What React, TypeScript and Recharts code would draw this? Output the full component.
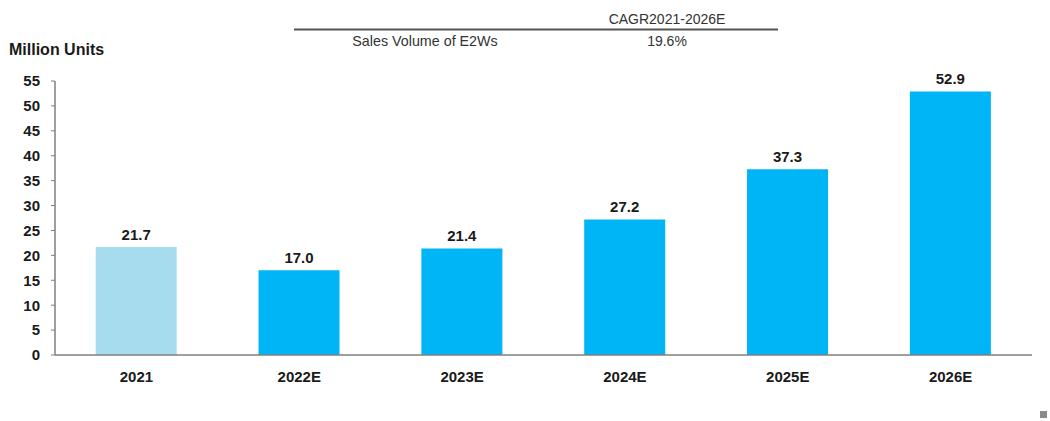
import React from 'react';
import { BarChart, Bar, XAxis, YAxis, Cell, LabelList } from 'recharts';

const categories = ['2021', '2022E', '2023E', '2024E', '2025E', '2026E'];
const salesVolume = [21.7, 17.0, 21.4, 27.2, 37.3, 52.9];
const yTicks = [0, 5, 10, 15, 20, 25, 30, 35, 40, 45, 50, 55];
const barColors = ['#a7dbee', '#00b5f5', '#00b5f5', '#00b5f5', '#00b5f5', '#00b5f5'];
const unitLabel = 'Million Units';
const headerCol = 'CAGR2021-2026E';
const headerRow = 'Sales Volume of E2Ws';
const cagrValue = '19.6%';

const data = categories.map((c, i) => ({ name: c, sales: salesVolume[i] }));

const FONT = '"Liberation Sans", Arial, sans-serif';

export default function App() {
  return (
    <div style={{ position: 'absolute', left: 0, top: 0, width: 1050, height: 421, background: '#fff', fontFamily: FONT }}>
      <svg width={1050} height={421} style={{ position: 'absolute', left: 0, top: 0 }}>
        <text x={667} y={24} textAnchor="middle" fontSize={14} fill="#333" fontFamily={FONT}>{headerCol}</text>
        <line x1={294} x2={778} y1={29.5} y2={29.5} stroke="#555" strokeWidth={2} />
        <text x={425} y={46} textAnchor="middle" fontSize={14.3} fill="#333" fontFamily={FONT}>{headerRow}</text>
        <text x={667} y={46} textAnchor="middle" fontSize={14} fill="#333" fontFamily={FONT}>{cagrValue}</text>
        <text x={9} y={55} fontSize={16} fontWeight="bold" fill="#1a1a1a" fontFamily={FONT}>{unitLabel}</text>
        <rect x={1040} y={411} width={7} height={7} fill="#8a8a8a" />
      </svg>
      <div style={{ position: 'absolute', left: 0, top: 0 }}>
        <BarChart
          width={1050}
          height={421}
          data={data}
          margin={{ top: 81, right: 18, bottom: 36, left: 0 }}
          barCategoryGap="25%"
        >
          <XAxis
            dataKey="name"
            tickLine={false}
            tickMargin={10}
            height={30}
            axisLine={{ stroke: '#7f7f7f', strokeWidth: 1.5 }}
            tick={{ fill: '#1a1a1a', fontSize: 15, fontWeight: 'bold', fontFamily: FONT }}
          />
          <YAxis
            width={55}
            domain={[0, 55]}
            ticks={yTicks}
            interval={0}
            tickSize={4}
            tickMargin={11}
            axisLine={{ stroke: '#7f7f7f', strokeWidth: 1.5 }}
            tickLine={{ stroke: '#7f7f7f' }}
            tick={{ fill: '#1a1a1a', fontSize: 15, fontWeight: 'bold', fontFamily: FONT }}
          />
          <Bar dataKey="sales" isAnimationActive={false}>
            {data.map((d, i) => (
              <Cell key={d.name} fill={barColors[i]} />
            ))}
            <LabelList
              dataKey="sales"
              position="top"
              offset={7}
              formatter={(v: any) => Number(v).toFixed(1)}
              style={{ fill: '#1a1a1a', fontSize: 15, fontWeight: 'bold', fontFamily: FONT }}
            />
          </Bar>
        </BarChart>
      </div>
    </div>
  );
}
